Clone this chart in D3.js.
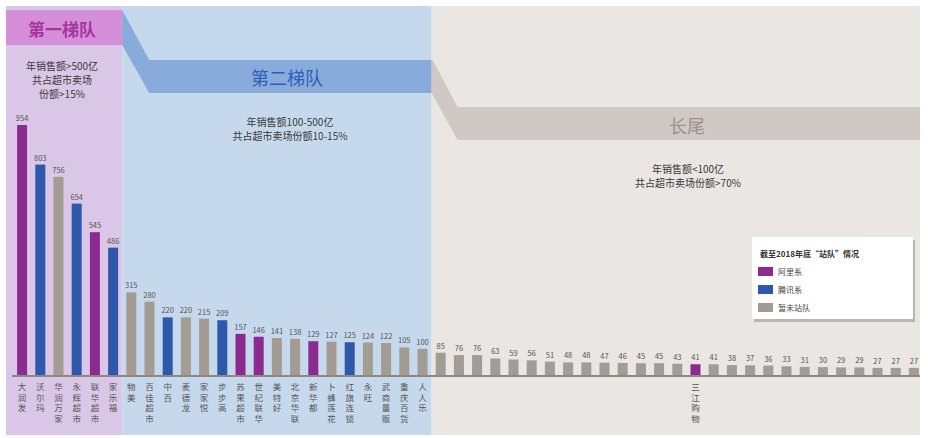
<!DOCTYPE html>
<html>
<head>
<meta charset="utf-8">
<script src="https://cdn.jsdelivr.net/npm/d3@7"></script>
<style>
  html, body { margin: 0; padding: 0; background: #fff; }
  svg { display: block; font-family: "Noto Sans CJK SC", "Noto Sans", sans-serif; }
</style>
</head>
<body>
<div id="chart"></div>
<script>
// chart data (annual sales, 亿元)
const names = [
  "大润发", "沃尔玛", "华润万家", "永辉超市", "联华超市", "家乐福",
  "物美", "百佳超市", "中百", "麦德龙", "家家悦", "步步高", "苏果超市", "世纪联华",
  "美特好", "北京华联", "新华都", "卜蜂莲花", "红旗连锁", "永旺", "武商量贩", "重庆百货", "人人乐",
  "", "", "", "", "", "", "", "", "", "", "", "", "", "",
  "三江购物", "", "", "", "", "", "", "", "", "", "", "", ""
];
const values = [
  954, 803, 756, 654, 545, 486,
  315, 280, 220, 220, 215, 209, 157, 146, 141, 138, 129, 127, 125, 124, 122, 105, 100,
  85, 76, 76, 63, 59, 56, 51, 48, 48, 47, 46, 45, 45, 43,
  41, 41, 38, 37, 36, 33, 31, 30, 29, 29, 27, 27, 27
];
// a = 阿里系, t = 腾讯系, n = 暂未站队
const camps = [
  "a", "t", "n", "t", "a", "t",
  "n", "n", "t", "n", "n", "t", "a", "a", "n", "n", "a", "n", "t", "n", "n", "n", "n",
  "n", "n", "n", "n", "n", "n", "n", "n", "n", "n", "n", "n", "n", "n",
  "a", "n", "n", "n", "n", "n", "n", "n", "n", "n", "n", "n", "n"
];
const tierEnds = [6, 23];   // index of first bar in tier 2 and tier 3
const legendItems = [["a", "阿里系"], ["t", "腾讯系"], ["n", "暂未站队"]];

const colors = { a: "#8d2a8f", t: "#2f58aa", n: "#a29c95" };

const W = 928, H = 438;
const svg = d3.select("#chart").append("svg").attr("width", W).attr("height", H);

const idx = d3.range(values.length);
const x = d3.scaleBand().domain(idx).range([13, 923]).paddingInner(0.45).paddingOuter(0.225);
const y = d3.scaleLinear().domain([0, 954]).range([375, 125]);
const cx = i => x(i) + x.bandwidth() / 2;

const b1 = (cx(tierEnds[0] - 1) + cx(tierEnds[0])) / 2;
const b2 = (cx(tierEnds[1] - 1) + cx(tierEnds[1])) / 2;
const bgLeft = 6, bgRight = 920, bgTop = 6, bgBottom = 435;

/* ---------- tier backgrounds ---------- */
svg.append("rect").attr("x", bgLeft).attr("y", bgTop).attr("width", b1 - bgLeft).attr("height", bgBottom - bgTop).attr("fill", "#dac7e7");
svg.append("rect").attr("x", b1).attr("y", bgTop).attr("width", b2 - b1).attr("height", bgBottom - bgTop).attr("fill", "#c6d9ec");
svg.append("rect").attr("x", b2).attr("y", bgTop).attr("width", bgRight - b2).attr("height", bgBottom - bgTop).attr("fill", "#e9e6e3");

/* ---------- header bands ---------- */
svg.append("rect").attr("x", bgLeft).attr("y", 10).attr("width", b1 - bgLeft).attr("height", 35).attr("fill", "#d58ed8");
svg.append("polygon")
  .attr("points", [[b1, 10], [b1 + 27, 60], [b2, 60], [b2, 93], [b1 + 27, 93], [b1, 45]].join(" "))
  .attr("fill", "#89abdc");
svg.append("polygon")
  .attr("points", [[b2, 58], [b2 + 26, 107], [bgRight, 107], [bgRight, 140], [b2 + 26, 140], [b2, 93]].join(" "))
  .attr("fill", "#d0c8c4");

svg.append("text").attr("x", 62).attr("y", 28).attr("text-anchor", "middle").attr("dominant-baseline", "central")
  .attr("font-size", 17).attr("font-weight", 700).attr("fill", "#a5369f").text("第一梯队");
svg.append("text").attr("x", 287).attr("y", 77).attr("text-anchor", "middle").attr("dominant-baseline", "central")
  .attr("font-size", 18).attr("fill", "#2e5fb8").text("第二梯队");
svg.append("text").attr("x", 687).attr("y", 125).attr("text-anchor", "middle").attr("dominant-baseline", "central")
  .attr("font-size", 18).attr("fill", "#9c918b").text("长尾");

const desc = [
  { x: 62, y: 65, lines: ["年销售额>500亿", "共占超市卖场", "份额>15%"] },
  { x: 290, y: 121, lines: ["年销售额100-500亿", "共占超市卖场份额10-15%"] },
  { x: 688, y: 168, lines: ["年销售额<100亿", "共占超市卖场份额>70%"] }
];
desc.forEach(d => {
  d.lines.forEach((l, i) => {
    svg.append("text").attr("x", d.x).attr("y", d.y + i * 14).attr("text-anchor", "middle")
      .attr("dominant-baseline", "central").attr("font-size", 10).attr("fill", "#3a3a3a").text(l);
  });
});

/* ---------- bars ---------- */
svg.append("g").selectAll("rect").data(idx).join("rect")
  .attr("x", i => x(i))
  .attr("y", i => y(values[i]))
  .attr("width", x.bandwidth())
  .attr("height", i => y(0) - y(values[i]))
  .attr("fill", i => colors[camps[i]]);

svg.append("g").selectAll("text").data(idx).join("text")
  .attr("x", i => cx(i))
  .attr("y", i => y(values[i]) - 4)
  .attr("text-anchor", "middle")
  .attr("font-size", 7.5)
  .attr("fill", "#555")
  .text(i => values[i]);

// baseline
svg.append("line").attr("x1", 12).attr("x2", bgRight).attr("y1", y(0) + 1).attr("y2", y(0) + 1)
  .attr("stroke", "#8e8883").attr("stroke-width", 2);

// vertical category labels, one character per line
svg.append("g").selectAll("text").data(idx.filter(i => names[i])).join("text")
  .attr("text-anchor", "middle")
  .attr("font-size", 8.5)
  .attr("fill", "#555")
  .each(function (i) {
    const t = d3.select(this);
    Array.from(names[i]).forEach((ch, k) => {
      t.append("tspan").attr("x", cx(i)).attr("y", 390 + k * 10.5).text(ch);
    });
  });

/* ---------- legend ---------- */
const lg = svg.append("g").attr("transform", "translate(752,237)");
lg.append("rect").attr("x", 2).attr("y", 3).attr("width", 161).attr("height", 82).attr("fill", "#b9b5b1");
lg.append("rect").attr("width", 161).attr("height", 82).attr("fill", "#fff");
lg.append("text").attr("x", 8).attr("y", 16).attr("dominant-baseline", "central")
  .attr("font-size", 8).attr("font-weight", 700).attr("fill", "#333").text("截至2018年底“站队”情况");
legendItems.forEach(([k, label], i) => {
  lg.append("rect").attr("x", 6).attr("y", 30 + i * 18).attr("width", 15).attr("height", 9).attr("fill", colors[k]);
  lg.append("text").attr("x", 26).attr("y", 34.5 + i * 18).attr("dominant-baseline", "central")
    .attr("font-size", 8).attr("fill", "#444").text(label);
});
</script>
</body>
</html>
